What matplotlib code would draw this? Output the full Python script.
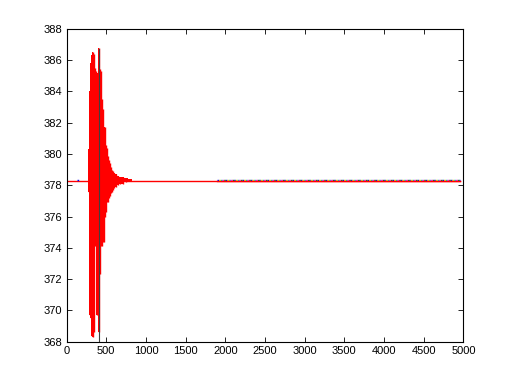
import matplotlib
matplotlib.use("Agg")
import matplotlib.pyplot as plt

# ---- data ----
baseline = 378.3
base_x = [20, 4960]

# oscillation envelope (upper / lower) around x = 270..850
osc_x = [270, 282, 295, 307, 320, 333, 345, 358, 370, 383, 396, 408, 421, 433,
         446, 459, 471, 484, 496, 509, 521, 534, 547, 559, 572, 584, 597, 622,
         648, 673, 711, 749, 799, 850]
osc_hi = [378.3, 380.3, 384.0, 385.8, 386.3, 386.5, 386.4, 385.5, 385.3, 382.7,
          385.2, 386.8, 385.4, 385.3, 383.5, 382.9, 381.3, 381.7, 380.6, 380.4,
          379.9, 379.6, 379.4, 379.2, 379.0, 378.9, 378.8, 378.7, 378.6, 378.55,
          378.5, 378.45, 378.4, 378.3]
osc_lo = [378.3, 377.6, 369.7, 369.5, 368.4, 368.3, 368.6, 374.1, 374.1, 369.7,
          369.8, 368.6, 372.3, 374.1, 374.1, 374.4, 374.4, 376.0, 376.3, 376.9,
          376.9, 377.2, 377.3, 377.5, 377.6, 377.7, 377.8, 377.9, 378.0, 378.05,
          378.1, 378.2, 378.25, 378.3]

# the dark thin spike
spike_x = [415, 415]
spike_y = [368.0, 386.7]

# multi-coloured overlapping series on the plateau
band_x = [1900, 4960]
band_colors = ["#0000ff", "#00a000", "#ff00ff", "#00c0c0", "#e0e000"]

# small coloured specks near the start
speck_x = [130, 200]

xticks = [0, 500, 1000, 1500, 2000, 2500, 3000, 3500, 4000, 4500, 5000]
yticks = [368, 370, 372, 374, 376, 378, 380, 382, 384, 386, 388]

# ---- figure ----
plt.rcParams['font.family'] = ['Liberation Sans', 'DejaVu Sans']
fig = plt.figure(figsize=(5.12, 3.84), dpi=100)
ax = fig.add_axes([0.13, 0.11, 0.775, 0.815])

ax.plot(base_x, [baseline, baseline], color="red", lw=1.0, zorder=2)

for i, c in enumerate(band_colors):
    ax.plot(band_x, [baseline + 0.06] * 2, color=c, lw=1.0,
            linestyle=(i * 1.2, (1.2, 4.8)), zorder=3)
ax.plot(band_x, [baseline - 0.02] * 2, color="red", lw=1.0, zorder=4)

for i, c in enumerate(band_colors[:3]):
    ax.plot(speck_x, [baseline + 0.06] * 2, color=c, lw=1.0,
            linestyle=(i * 1.2, (1.2, 4.8)), zorder=3)

ax.fill_between(osc_x, osc_lo, osc_hi, step="mid", color="red", lw=0, zorder=5)
ax.vlines(osc_x, osc_lo, osc_hi, color="red", lw=1.0, zorder=5)
ax.plot(spike_x, spike_y, color="#404040", lw=0.8, zorder=6)

ax.set_xlim(0, 5000)
ax.set_ylim(368, 388)
ax.set_xticks(xticks)
ax.set_yticks(yticks)
ax.tick_params(direction="in", length=3.5, width=0.6, labelsize=8,
               top=True, right=True, pad=3)
for s in ax.spines.values():
    s.set_linewidth(0.8)

fig.savefig("out.png", dpi=100)
